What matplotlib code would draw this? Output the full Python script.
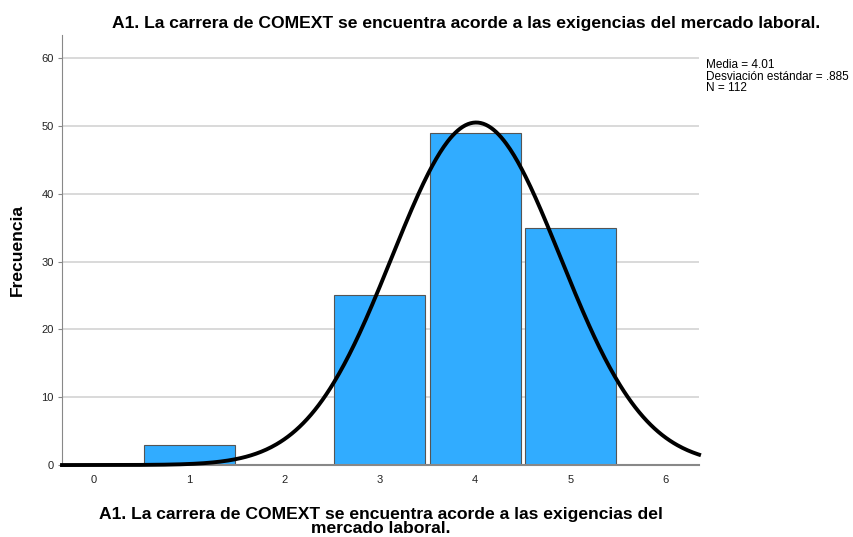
import numpy as np
import matplotlib
matplotlib.use("Agg")
import matplotlib.pyplot as plt

plt.rcParams['font.family'] = ['Liberation Sans', 'DejaVu Sans']

categories = [1, 2, 3, 4, 5]
counts = [3, 0, 25, 49, 35]
mean = 4.01
sd = 0.885
n = 112
xticks = [0, 1, 2, 3, 4, 5, 6]
yticks = [0, 10, 20, 30, 40, 50, 60]
title = "A1. La carrera de COMEXT se encuentra acorde a las exigencias del mercado laboral."
xlabel = "A1. La carrera de COMEXT se encuentra acorde a las exigencias del\nmercado laboral."
ylabel = "Frecuencia"

fig = plt.figure(figsize=(8.54, 5.37), dpi=100)
ax = fig.add_axes([0.0726, 0.134, 0.746, 0.801])

xmin, xmax = -0.336, 6.35
ax.set_xlim(xmin, xmax)
ax.set_ylim(0, 63.4)

for y in yticks[1:]:
    ax.axhline(y, color='#d3d3d3', lw=1.2, zorder=0)

ax.bar(categories, counts, width=0.955, color='#31acff', edgecolor='#555555',
       linewidth=0.8, zorder=2)

xs = np.linspace(xmin, xmax, 500)
ys = n * 1.0 / (sd * np.sqrt(2 * np.pi)) * np.exp(-0.5 * ((xs - mean) / sd) ** 2)
ax.plot(xs, ys, color='black', lw=2.8, zorder=3, clip_on=False)

ax.set_xticks(xticks)
ax.set_yticks(yticks)
ax.tick_params(axis='both', labelsize=8, length=0, pad=7, colors='#222222')
ax.tick_params(axis='y', length=3, color='#888888', pad=3)

for s in ['top', 'right']:
    ax.spines[s].set_visible(False)
ax.spines['left'].set_color('#888888')
ax.spines['bottom'].set_color('#888888')
ax.spines['bottom'].set_linewidth(1.5)

ax.set_title(title, fontsize=12.6, fontweight='bold', x=0.634, pad=5)
ax.set_xlabel(xlabel, fontsize=12.6, fontweight='bold', linespacing=0.95, labelpad=16, x=0.5)
ax.set_ylabel(ylabel, fontsize=12.6, fontweight='bold', labelpad=12)

fig.text(0.827, 0.89, "Media = 4.01\nDesviación estándar = .885\nN = 112",
         fontsize=8.5, va='top', ha='left', linespacing=0.95)

fig.savefig("out.png", dpi=100)
